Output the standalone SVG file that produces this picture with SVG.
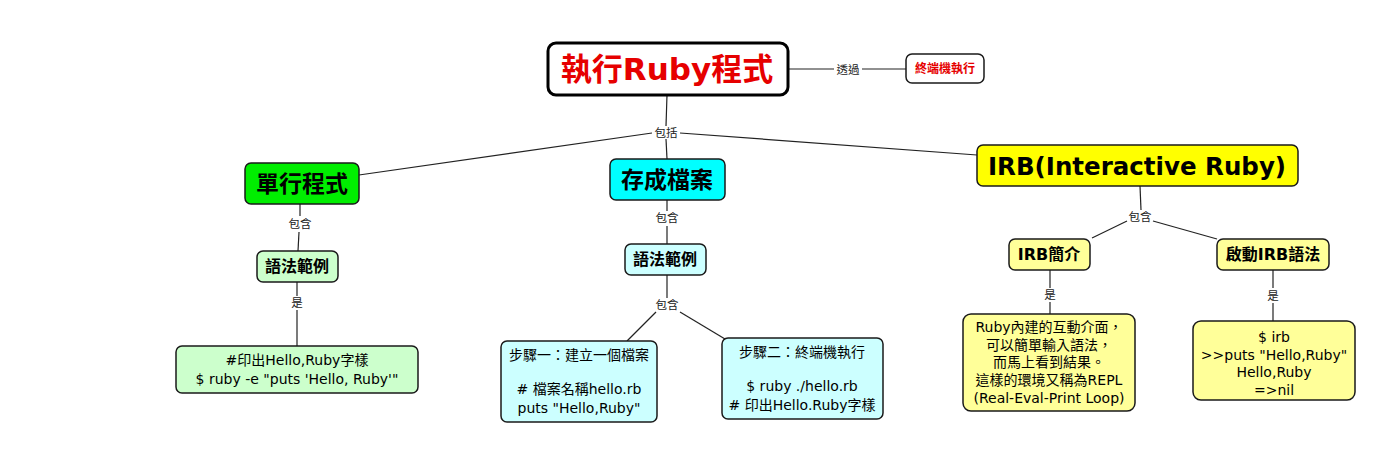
<svg xmlns="http://www.w3.org/2000/svg" width="1400" height="468" viewBox="0 0 1400 468">
<style>
.n{stroke:#1a1a1a;stroke-width:1.5}
.c{stroke:#222;stroke-width:1.2;fill:none}
.t{font-family:"DejaVu Sans","Noto Sans CJK TC",sans-serif;text-anchor:middle;fill:#000}
.b{font-weight:bold}
.lb{font-size:11.5px;fill:#222}
.tx{font-size:14px}
.s{font-size:16px}
.r{fill:#e60000}
</style>
<rect width="1400" height="468" fill="#fff"/>
<g id="connectors">
<line class="c" x1="788" y1="69" x2="834" y2="69"/>
<line class="c" x1="862" y1="69" x2="906" y2="69"/>
<line class="c" x1="667" y1="95" x2="666" y2="126"/>
<polyline class="c" points="359,175 652,133"/>
<line class="c" x1="666" y1="139" x2="667" y2="159"/>
<polyline class="c" points="680,133 977,155"/>
<line class="c" x1="300" y1="204" x2="300" y2="216"/>
<line class="c" x1="299" y1="232" x2="298" y2="251"/>
<line class="c" x1="297" y1="282" x2="297" y2="296"/>
<line class="c" x1="297" y1="310" x2="297" y2="346"/>
<line class="c" x1="667" y1="200" x2="667" y2="211"/>
<line class="c" x1="667" y1="226" x2="667" y2="244"/>
<line class="c" x1="667" y1="275" x2="667" y2="298"/>
<line class="c" x1="656" y1="312" x2="627" y2="341"/>
<line class="c" x1="680" y1="312" x2="725" y2="339"/>
<line class="c" x1="1140" y1="186" x2="1141" y2="210"/>
<line class="c" x1="1127" y1="221" x2="1092" y2="238"/>
<line class="c" x1="1153" y1="221" x2="1217" y2="239"/>
<line class="c" x1="1050" y1="270" x2="1050" y2="288"/>
<line class="c" x1="1050" y1="302" x2="1050" y2="314"/>
<line class="c" x1="1273" y1="270" x2="1273" y2="288"/>
<line class="c" x1="1273" y1="303" x2="1273" y2="321"/>
<text class="t lb" x="848" y="74">透過</text>
<text class="t lb" x="666" y="137">包括</text>
<text class="t lb" x="300" y="228">包含</text>
<text class="t lb" x="297" y="307">是</text>
<text class="t lb" x="667" y="222">包含</text>
<text class="t lb" x="667" y="309">包含</text>
<text class="t lb" x="1140" y="221">包含</text>
<text class="t lb" x="1050" y="299">是</text>
<text class="t lb" x="1273" y="300">是</text>
</g>
<g id="root">
<rect x="548" y="43" width="240" height="52" rx="8" fill="#fff" stroke="#000" stroke-width="3"/>
<text class="t b r" x="667" y="80" font-size="31">執行Ruby程式</text>
</g>
<g id="terminal">
<rect class="n" x="906" y="54" width="78" height="29" rx="6" fill="#fff"/>
<text class="t b r" x="945" y="73" font-size="12">終端機執行</text>
</g>
<g id="single">
<rect class="n" x="245" y="163" width="114" height="41" rx="6" fill="#00ee00"/>
<text class="t b" x="302" y="192" font-size="23">單行程式</text>
</g>
<g id="savefile">
<rect class="n" x="610" y="159" width="115" height="41" rx="6" fill="#00ffff"/>
<text class="t b" x="667" y="188" font-size="23">存成檔案</text>
</g>
<g id="irb">
<rect class="n" x="977" y="145" width="321" height="41" rx="6" fill="#ffff00"/>
<text class="t b" x="1137" y="175" font-size="24.5">IRB(Interactive Ruby)</text>
</g>
<g id="syntax1">
<rect class="n" x="257" y="251" width="81" height="31" rx="6" fill="#ccffcc"/>
<text class="t b s" x="297" y="272">語法範例</text>
</g>
<g id="code1">
<rect class="n" x="176" y="346" width="242" height="47" rx="6" fill="#ccffcc"/>
<text class="t tx" x="297" y="365">#印出Hello,Ruby字樣</text>
<text class="t tx" x="297" y="384">$ ruby -e "puts 'Hello, Ruby'"</text>
</g>
<g id="syntax2">
<rect class="n" x="625" y="244" width="81" height="31" rx="6" fill="#ccffff"/>
<text class="t b s" x="665" y="265">語法範例</text>
</g>
<g id="step1">
<rect class="n" x="501" y="341" width="156" height="81" rx="6" fill="#ccffff"/>
<text class="t tx" x="579" y="360">步驟一：建立一個檔案</text>
<text class="t tx" x="579" y="394"># 檔案名稱hello.rb</text>
<text class="t tx" x="579" y="413">puts "Hello,Ruby"</text>
</g>
<g id="step2">
<rect class="n" x="722" y="338" width="161" height="81" rx="6" fill="#ccffff"/>
<text class="t tx" x="802" y="357">步驟二：終端機執行</text>
<text class="t tx" x="802" y="391">$ ruby ./hello.rb</text>
<text class="t tx" x="802" y="410"># 印出Hello.Ruby字樣</text>
</g>
<g id="irbintro">
<rect class="n" x="1009" y="239" width="81" height="31" rx="6" fill="#ffff99"/>
<text class="t b s" x="1049" y="260">IRB簡介</text>
</g>
<g id="irbstart">
<rect class="n" x="1217" y="239" width="112" height="31" rx="6" fill="#ffff99"/>
<text class="t b s" x="1273" y="260">啟動IRB語法</text>
</g>
<g id="irbdesc">
<rect class="n" x="963" y="314" width="172" height="97" rx="8" fill="#ffff99"/>
<text class="t tx" x="1049" y="332">Ruby內建的互動介面，</text>
<text class="t tx" x="1049" y="350">可以簡單輸入語法，</text>
<text class="t tx" x="1049" y="367">而馬上看到結果。</text>
<text class="t tx" x="1049" y="385">這樣的環境又稱為REPL</text>
<text class="t tx" x="1049" y="403">(Real-Eval-Print Loop)</text>
</g>
<g id="irbcode">
<rect class="n" x="1193" y="321" width="162" height="79" rx="8" fill="#ffff99"/>
<text class="t tx" x="1274" y="342">$ irb</text>
<text class="t tx" x="1274" y="360">&gt;&gt;puts "Hello,Ruby"</text>
<text class="t tx" x="1274" y="377">Hello,Ruby</text>
<text class="t tx" x="1274" y="395">=&gt;nil</text>
</g>
</svg>
